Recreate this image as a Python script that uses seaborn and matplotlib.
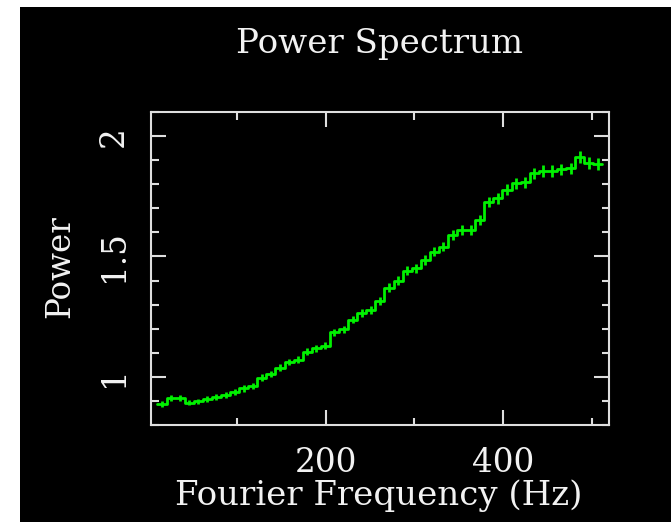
import numpy as np
import matplotlib
matplotlib.use("Agg")
import matplotlib.pyplot as plt
import seaborn as sns
from matplotlib.patches import Rectangle
from matplotlib.ticker import FixedLocator, MultipleLocator, FuncFormatter

# Rebinned power spectrum: 49 bins of 10.24 Hz from 10.24 Hz up to the 512 Hz Nyquist limit
bin_width = 10.24
bin_lo = np.arange(1, 50) * bin_width

power = [
    0.888, 0.912, 0.912, 0.893, 0.898, 0.907, 0.915, 0.924, 0.937, 0.952,
    0.963, 0.997, 1.012, 1.038, 1.062, 1.072, 1.105, 1.118, 1.130, 1.185,
    1.197, 1.238, 1.264, 1.278, 1.315, 1.370, 1.400, 1.441, 1.451, 1.485,
    1.520, 1.541, 1.589, 1.610, 1.610, 1.651, 1.727, 1.741, 1.777, 1.804,
    1.808, 1.845, 1.855, 1.855, 1.862, 1.866, 1.914, 1.888, 1.884,
]
power_err = [
    0.012, 0.012, 0.012, 0.012, 0.012, 0.012, 0.012, 0.012, 0.012, 0.013,
    0.013, 0.013, 0.013, 0.014, 0.014, 0.014, 0.014, 0.015, 0.015, 0.015,
    0.016, 0.016, 0.016, 0.017, 0.017, 0.018, 0.018, 0.019, 0.019, 0.019,
    0.020, 0.020, 0.021, 0.021, 0.021, 0.021, 0.022, 0.023, 0.023, 0.023,
    0.024, 0.024, 0.024, 0.024, 0.024, 0.024, 0.025, 0.025, 0.025,
]

x_major = [200, 400]
y_major = [1.0, 1.5, 2.0]

title = "Power Spectrum"
x_label = "Fourier Frequency (Hz)"
y_label = "Power"

green = "#00f000"
frame_c = "#dedede"
text_c = "#f2f2f2"

sns.set_style("dark", {"axes.facecolor": "black", "figure.facecolor": "white"})
plt.rcParams["font.family"] = ["DejaVu Serif"]

W, H = 671, 522
fig = plt.figure(figsize=(W / 100, H / 100), dpi=100, facecolor="white")
fig.add_artist(Rectangle((20 / W, 0), (W - 20) / W, (H - 7) / H,
                         transform=fig.transFigure, facecolor="black",
                         edgecolor="none", zorder=0))

ax = fig.add_axes([151 / W, 1 - 425 / H, 458 / W, 313 / H])
ax.set_facecolor("black")

centers = bin_lo + bin_width / 2
step_x = np.append(bin_lo, bin_lo[-1] + bin_width)
step_y = np.append(power, power[-1])

sns.lineplot(x=step_x, y=step_y, drawstyle="steps-post", color=green,
             linewidth=2.0, estimator=None, sort=False, ax=ax)
ax.errorbar(centers, power, yerr=power_err, fmt="none", ecolor=green,
            elinewidth=2.0, capsize=0)

ax.set_xlim(3, 519.5)
ax.set_ylim(0.8, 2.1)
ax.grid(False)

ax.xaxis.set_major_locator(FixedLocator(x_major))
ax.xaxis.set_minor_locator(MultipleLocator(100))
ax.yaxis.set_major_locator(FixedLocator(y_major))
ax.yaxis.set_minor_locator(MultipleLocator(0.1))
ax.yaxis.set_major_formatter(FuncFormatter(lambda v, p: f"{v:g}"))

ax.tick_params(which="both", direction="in", top=True, right=True,
               bottom=True, left=True, color=frame_c, width=1.5,
               labelcolor=text_c, labelsize=23.5)
ax.tick_params(which="major", length=10.8)
ax.tick_params(which="minor", length=5.4)
ax.tick_params(axis="x", which="major", pad=16)
ax.tick_params(axis="y", which="major", pad=15, labelrotation=90)
for t in ax.yaxis.get_major_ticks():
    t.label1.set_verticalalignment("center")

for s in ax.spines.values():
    s.set_visible(True)
    s.set_color(frame_c)
    s.set_linewidth(1.5)

ax.set_xlabel("")
ax.set_ylabel("")

fig.text(379 / W, 1 - 44 / H, title, ha="center", va="center",
         fontsize=24.5, color=text_c)
fig.text(379 / W, 1 - 496 / H, x_label, ha="center", va="center",
         fontsize=24.5, color=text_c)
fig.text(60 / W, 1 - 267 / H, y_label, ha="center", va="center",
         rotation=90, fontsize=23.5, color=text_c)

fig.savefig("out.png", dpi=100, facecolor="white")
